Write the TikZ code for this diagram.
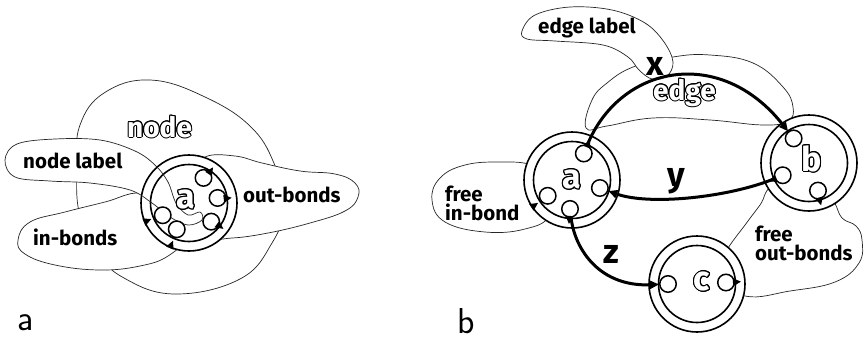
\documentclass[tikz,border=0pt]{standalone}
\usepackage{fontspec}
\setmainfont{Fira Sans}
\usepackage[copies]{contour}
\contourlength{1pt}
\contournumber{16}
\usetikzlibrary{arrows.meta}
\newcommand\bondout[3]{\fill[shift={(#1)},rotate={-(#2)}] (#3+5,0) -- (#3-3,4) -- (#3-3,-4) -- cycle;}
\newcommand\bondin[3]{\fill[shift={(#1)},rotate={-(#2)}] (#3-7,0) -- (#3+1,4) -- (#3+1,-4) -- cycle;}
\begin{document}
\begin{tikzpicture}[x=1pt,y=-1pt,
 blob/.style={draw=black!85,line width=0.7pt,fill=white},
 blobline/.style={draw=black!85,line width=0.7pt},
 ring/.style={circle,draw,line width=1.6pt,fill=white,inner sep=0pt,minimum size=96pt},
 inring/.style={circle,draw,line width=1.6pt,inner sep=0pt,minimum size=77pt},
 bond/.style={circle,draw,line width=1.5pt,fill=white,inner sep=0pt,minimum size=16.5pt},
 lbl/.style={inner sep=0pt,font=\bfseries\fontsize{20.5}{19}\selectfont},
 big/.style={inner sep=0pt,font=\bfseries\fontsize{34}{34}\selectfont},
 outl/.style={inner sep=0pt,text=white,font=\bfseries\fontsize{28}{28}\selectfont},
 nodelbl/.style={inner sep=0pt,text=white,font=\bfseries\fontsize{34}{34}\selectfont},
 panel/.style={inner sep=0pt,font=\sffamily\fontsize{36}{36}\selectfont},
 link/.style={line width=3pt,-{Triangle[length=9pt,width=8pt]}}
]
\useasboundingbox (0,0) rectangle (864,341);

% ================= panel a =================
\draw[blob] plot[smooth cycle,tension=0.7] coordinates {(80,125) (104,93) (150,80) (205,97) (252,128) (276,168) (285,205) (272,243) (240,279) (175,294) (124,278) (95,250) (79,212) (77,165)};
\draw[blob] plot[smooth cycle,tension=0.7] coordinates {(18,240) (30,222) (65,212) (105,202) (140,193) (172,205) (182,238) (168,256) (140,266) (100,270) (55,265) (25,254)};
\draw[blob] plot[smooth cycle,tension=0.7] coordinates {(205,157) (235,156) (262,163) (300,171) (335,174) (355,183) (358,197) (345,211) (310,223) (268,233) (232,238) (212,236) (198,210) (195,175)};
\draw[blob] plot[smooth cycle,tension=0.6] coordinates {(5,160) (17,144) (55,139) (100,140) (135,151) (155,165) (168,182) (176,203) (188,215) (200,212) (202,220) (188,225) (170,217) (152,203) (130,190) (90,183) (50,181) (15,177)};

\node[ring] (A) at (189,203) {};
\node[inring] (Ai) at (A) {};
\begin{scope}
\clip (A) circle[radius=47];
\draw[blobline] plot[smooth cycle,tension=0.6] coordinates {(5,160) (17,144) (55,139) (100,140) (135,151) (155,165) (168,182) (176,203) (188,215) (200,212) (202,220) (188,225) (170,217) (152,203) (130,190) (90,183) (50,181) (15,177)};
\end{scope}
\node[nodelbl] (Alab) at (186,200) {\contour{black}{a}};
\node[bond] (a1) at ([shift={(-60:29)}]A) {};
\node[bond] (a2) at ([shift={(-10:29)}]A) {};
\node[bond] (a3) at ([shift={(40:29)}]A) {};
\node[bond] (a4) at ([shift={(115:29)}]A) {};
\node[bond] (a5) at ([shift={(155:29)}]A) {};
\bondout{A}{-56}{38}
\bondout{A}{-7}{38}
\bondout{A}{37}{38}
\bondin{A}{113}{48}
\bondin{A}{157}{48}

\node[outl,anchor=base west] (tnode) at (127,137) {\contour{black}{node}};
\node[lbl,anchor=base west] (tnl) at (23,168) {node label};
\node[lbl,anchor=base west] (tin) at (33,245) {in-bonds};
\node[lbl,anchor=base west] (tout) at (243,202) {out-bonds};
\node[panel,anchor=base west] (pa) at (17,330) {a};

% ================= panel b =================
\draw[blob] plot[smooth cycle,tension=0.7] coordinates {(586,128) (592,100) (607,83) (633,67) (673,57) (710,55) (753,63) (783,87) (793,107) (788,121) (763,125) (710,120) (653,118) (607,126)};
\draw[blob] plot[smooth cycle,tension=0.6] coordinates {(522,31) (535,15) (570,7) (612,10) (645,23) (664,42) (673,62) (667,76) (652,79) (639,70) (628,57) (603,45) (555,41) (527,39)};
\draw[blob] plot[smooth cycle,tension=0.7] coordinates {(532,165) (500,162) (465,165) (440,178) (432,200) (445,222) (485,232) (525,229) (550,215) (555,180)};
\draw[blob] plot[smooth cycle,tension=0.7] coordinates {(775,185) (760,205) (745,225) (728,248) (712,275) (745,296) (790,291) (835,282) (859,263) (862,240) (856,226) (842,218) (834,202) (820,185)};

\node[ring] (NA) at (572,180) {};
\node[inring] (NAi) at (NA) {};
\node[ring] (NB) at (809,163) {};
\node[inring] (NBi) at (NB) {};
\node[ring] (NC) at (697,284) {};
\node[inring] (NCi) at (NC) {};

\node[nodelbl] (la) at (572,180) {\contour{black}{a}};
\node[nodelbl] (lb) at (812,159) {\contour{black}{b}};
\node[nodelbl] (lc) at (702,282) {\contour{black}{c}};

\node[bond] (pa1) at ([shift={(-66:29)}]NA) {};
\node[bond] (pa2) at ([shift={(16:29)}]NA) {};
\node[bond] (pa3) at ([shift={(94:29)}]NA) {};
\node[bond] (pa4) at ([shift={(147:29)}]NA) {};
\node[bond] (pb1) at ([shift={(-122:29)}]NB) {};
\node[bond] (pb2) at ([shift={(155:29)}]NB) {};
\node[bond] (pb3) at ([shift={(72:29)}]NB) {};
\node[bond] (pc1) at ([shift={(180:29)}]NC) {};
\node[bond] (pc2) at ([shift={(-3:29)}]NC) {};

\bondout{NA}{-66}{39}
\bondout{NA}{94}{39}
\bondin{NA}{146}{48}
\bondout{NB}{155}{39}
\bondout{NB}{74}{39}
\bondout{NC}{-3}{39}

\draw[link] (pa1) .. controls (620,65) and (720,45) .. (pb1);
\draw[link] (pb2) .. controls (730,197) and (650,206) .. (pa2);
\draw[link] (pa3) .. controls (575,250) and (600,287) .. (pc1);

\node[outl,anchor=base west] (tedge) at (653,100) {\contour{black}{edge}};
\node[lbl,anchor=base west] (tel) at (538,33) {edge label};
\node[big,anchor=base] (tx) at (655,75) {x};
\node[big,anchor=base] (ty) at (676,186) {y};
\node[big,anchor=base] (tz) at (611,263) {z};
\node[lbl,anchor=north west,align=left] (tfi) at (445,186) {free\\in-bond};
\node[lbl,anchor=north west,align=left] (tfo) at (755,226) {free\\out-bonds};
\node[panel,anchor=base west] (pb) at (457,333) {b};
\end{tikzpicture}
\end{document}
